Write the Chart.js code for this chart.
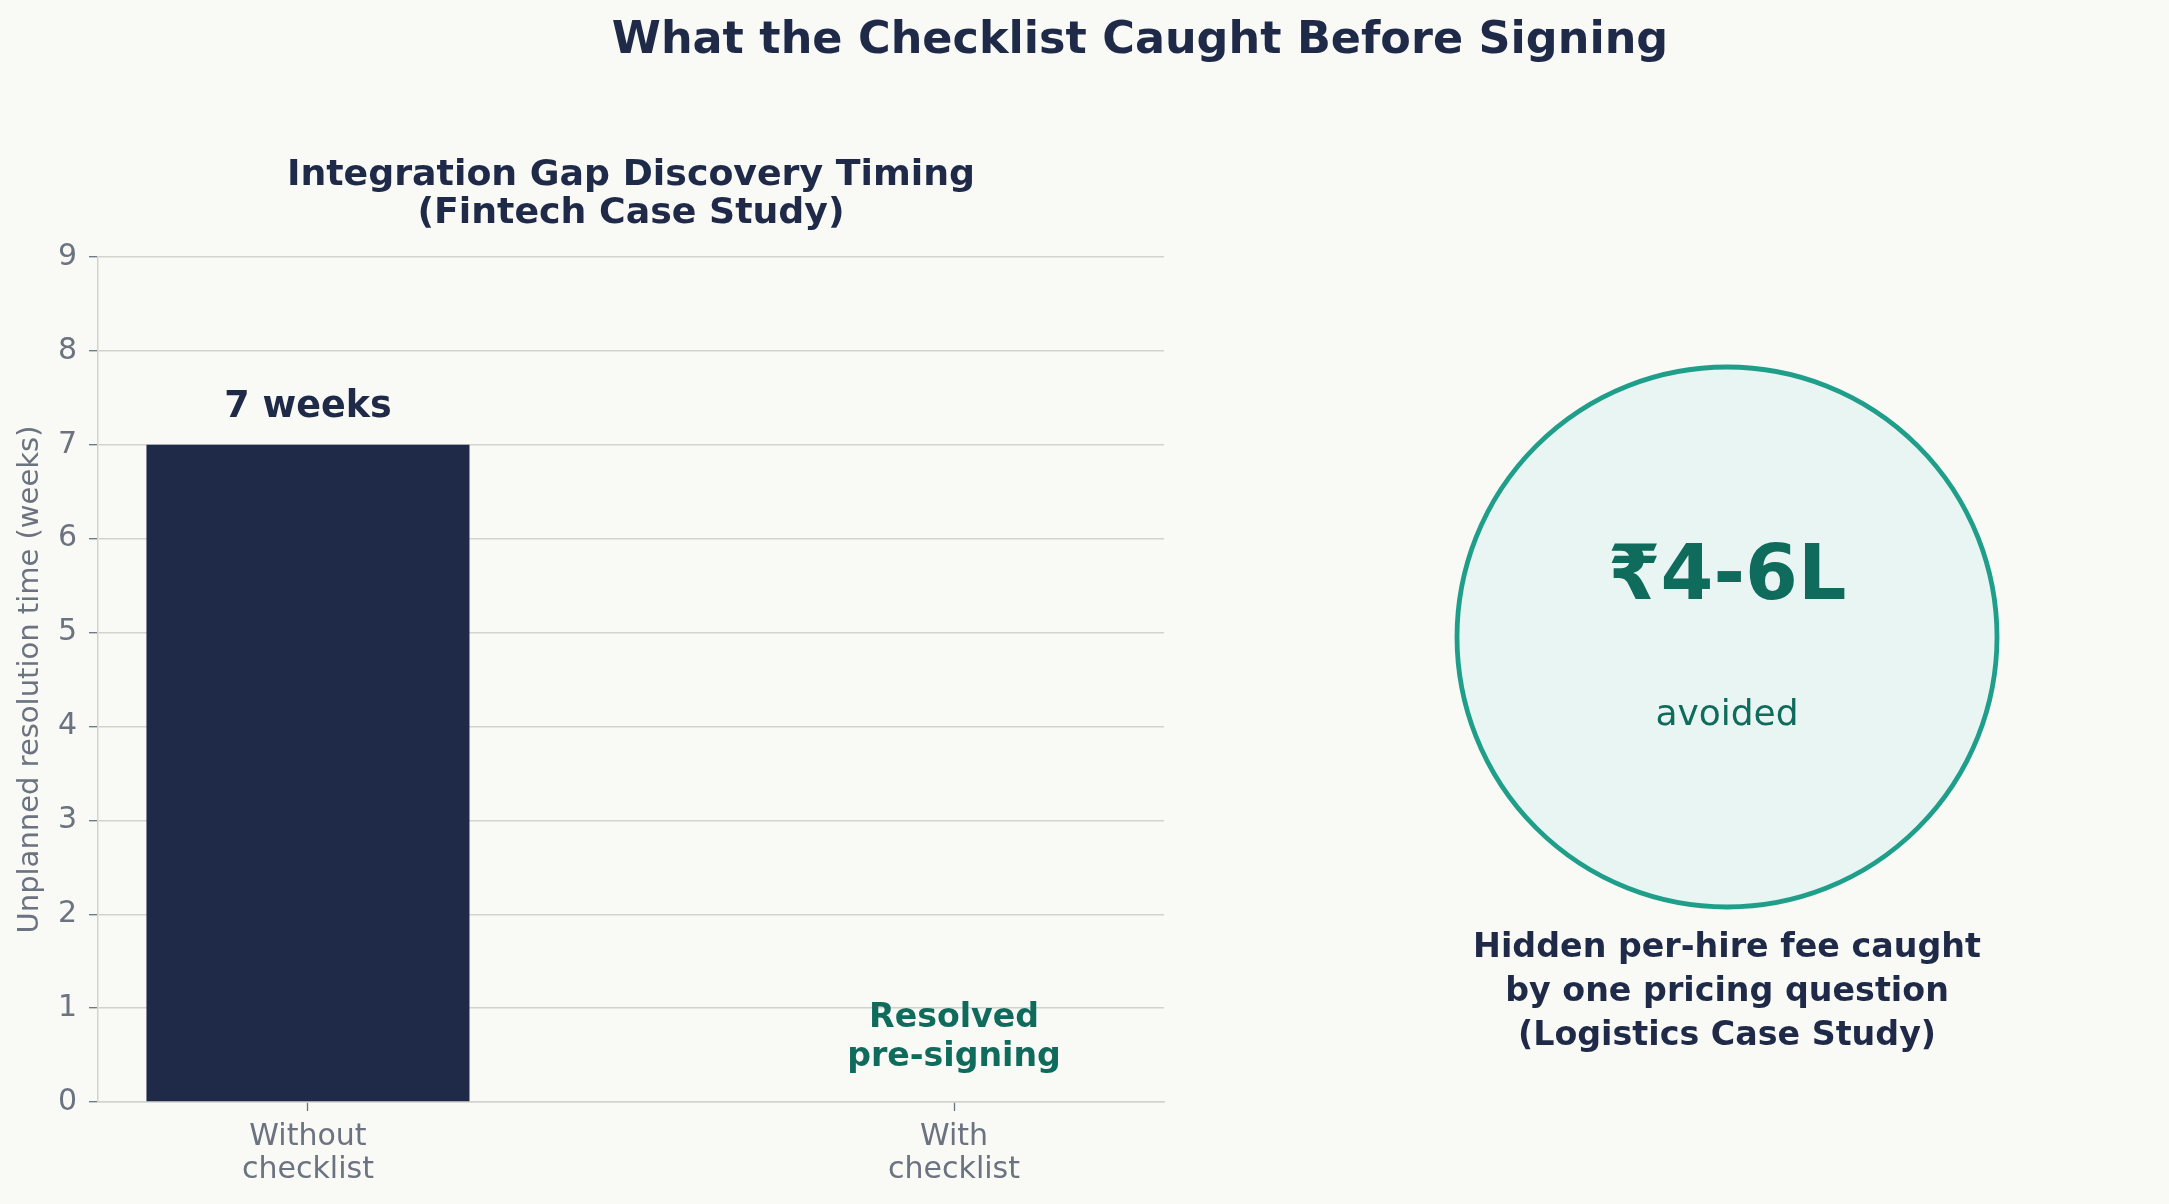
<!DOCTYPE html>
<html><head><meta charset="utf-8">
<script src="https://cdn.jsdelivr.net/npm/chart.js@4"></script>
<style>
html,body{margin:0;padding:0;background:#f9f9f5;}
#wrap{width:2169px;height:1204px;position:relative;}
</style>
</head><body><div id="wrap"><canvas id="c" width="2169" height="1204"></canvas></div>
<script>
// ---- data ----
const categories = ['Without checklist', 'With checklist'];
const categoryLines = [['Without', 'checklist'], ['With', 'checklist']];
const weeks = [7, 0];
const barLabels = [['7 weeks'], ['Resolved', 'pre-signing']];
const barLabelAt = [7.2, 0.3];
const yTicks = [0, 1, 2, 3, 4, 5, 6, 7, 8, 9];
const mainTitle = 'What the Checklist Caught Before Signing';
const panelTitle = ['Integration Gap Discovery Timing', '(Fintech Case Study)'];
const yAxisTitle = 'Unplanned resolution time (weeks)';
const calloutAmount = '₹4-6L';
const calloutWord = 'avoided';
const calloutNote = ['Hidden per-hire fee caught', 'by one pricing question', '(Logistics Case Study)'];

// ---- styles ----
const FONT = "'DejaVu Sans', 'Liberation Sans', sans-serif";
const NAVY = '#1e2a48';
const GREEN = '#0f6b5c';
const TEAL = '#1f9e8a';
const GRAY = '#6b7280';
const GRID = '#d3d3ce';
const BG = '#f9f9f5';
const labelStyles = [{color: NAVY, size: 36.5, gap: 40}, {color: GREEN, size: 33.2, gap: 39}];

const decor = {
  id: 'decor',
  beforeDraw(chart) {
    const ctx = chart.ctx;
    ctx.save();
    ctx.fillStyle = BG;
    ctx.fillRect(0, 0, chart.width, chart.height);
    ctx.restore();
  },
  afterDatasetsDraw(chart) {
    const ctx = chart.ctx;
    const xs = chart.scales.x, ys = chart.scales.y;
    ctx.save();
    ctx.textAlign = 'center';
    ctx.textBaseline = 'alphabetic';
    barLabels.forEach((lines, i) => {
      const st = labelStyles[i];
      ctx.font = `bold ${st.size}px ${FONT}`;
      ctx.fillStyle = st.color;
      const x = xs.getPixelForValue(i);
      const bottom = ys.getPixelForValue(barLabelAt[i]) - 0.236 * st.size;
      for (let k = 0; k < lines.length; k++) {
        ctx.fillText(lines[k], x, bottom - (lines.length - 1 - k) * st.gap);
      }
    });
    ctx.restore();
  },
  afterDraw(chart) {
    const ctx = chart.ctx;
    const ca = chart.chartArea;
    ctx.save();
    ctx.textAlign = 'center';
    ctx.textBaseline = 'alphabetic';
    // main title
    ctx.fillStyle = NAVY;
    ctx.font = `bold 44.5px ${FONT}`;
    ctx.fillText(mainTitle, 1140, 53);
    // panel title
    ctx.font = `bold 36.3px ${FONT}`;
    const cx = (ca.left + ca.right) / 2;
    ctx.fillText(panelTitle[0], cx, ca.top - 72);
    ctx.fillText(panelTitle[1], cx, ca.top - 34);
    // callout circle
    const ccx = 1727, ccy = 637, r = 270;
    ctx.beginPath();
    ctx.arc(ccx, ccy, r, 0, Math.PI * 2);
    ctx.fillStyle = '#e8f5f2';
    ctx.fill();
    ctx.lineWidth = 4.8;
    ctx.strokeStyle = TEAL;
    ctx.stroke();
    ctx.fillStyle = GREEN;
    ctx.font = `bold 76px ${FONT}`;
    ctx.fillText(calloutAmount, ccx, 599);
    ctx.font = `36px ${FONT}`;
    ctx.fillText(calloutWord, ccx, 725);
    ctx.fillStyle = NAVY;
    ctx.font = `bold 33.3px ${FONT}`;
    calloutNote.forEach((t, k) => ctx.fillText(t, ccx, 957 + k * 44));
    ctx.restore();
  }
};

new Chart(document.getElementById('c'), {
  type: 'bar',
  data: {
    datasets: [{
      label: 'Unplanned resolution time (weeks)',
      data: weeks.map((v, i) => ({x: i, y: v})),
      backgroundColor: NAVY,
      borderWidth: 0,
      categoryPercentage: 0.5,
      barPercentage: 1.0
    }]
  },
  options: {
    responsive: false,
    devicePixelRatio: 1,
    animation: false,
    layout: {padding: {left: 0, top: 257, right: 1005, bottom: 0}},
    plugins: {legend: {display: false}, tooltip: {enabled: false}, title: {display: false}},
    scales: {
      x: {
        type: 'linear',
        offset: false,
        min: -0.325,
        max: 1.325,
        afterBuildTicks: s => { s.ticks = categories.map((c, i) => ({value: i})); },
        afterFit: s => { s.height = 102; },
        ticks: {
          callback: v => categoryLines[v],
          color: GRAY,
          font: {family: FONT, size: 30, lineHeight: 1.1},
          padding: 10,
          maxRotation: 0,
          autoSkip: false
        },
        grid: {offset: false, drawOnChartArea: false, drawTicks: true, tickLength: 9, tickColor: GRAY, tickWidth: 1.3},
        border: {color: GRID, width: 1.5}
      },
      y: {
        min: 0,
        max: 9,
        afterBuildTicks: s => { s.ticks = yTicks.map(v => ({value: v})); },
        afterFit: s => { s.width = 98; },
        ticks: {color: GRAY, font: {family: FONT, size: 30}, padding: 12},
        grid: {color: GRID, lineWidth: 1.4, drawTicks: true, tickLength: 9, tickColor: GRAY, tickWidth: 1.3},
        border: {color: GRID, width: 1.5},
        title: {display: true, text: yAxisTitle, color: GRAY, font: {family: FONT, size: 29}, padding: {top: 13, bottom: 0}}
      }
    }
  },
  plugins: [decor]
});
</script>
</body></html>
